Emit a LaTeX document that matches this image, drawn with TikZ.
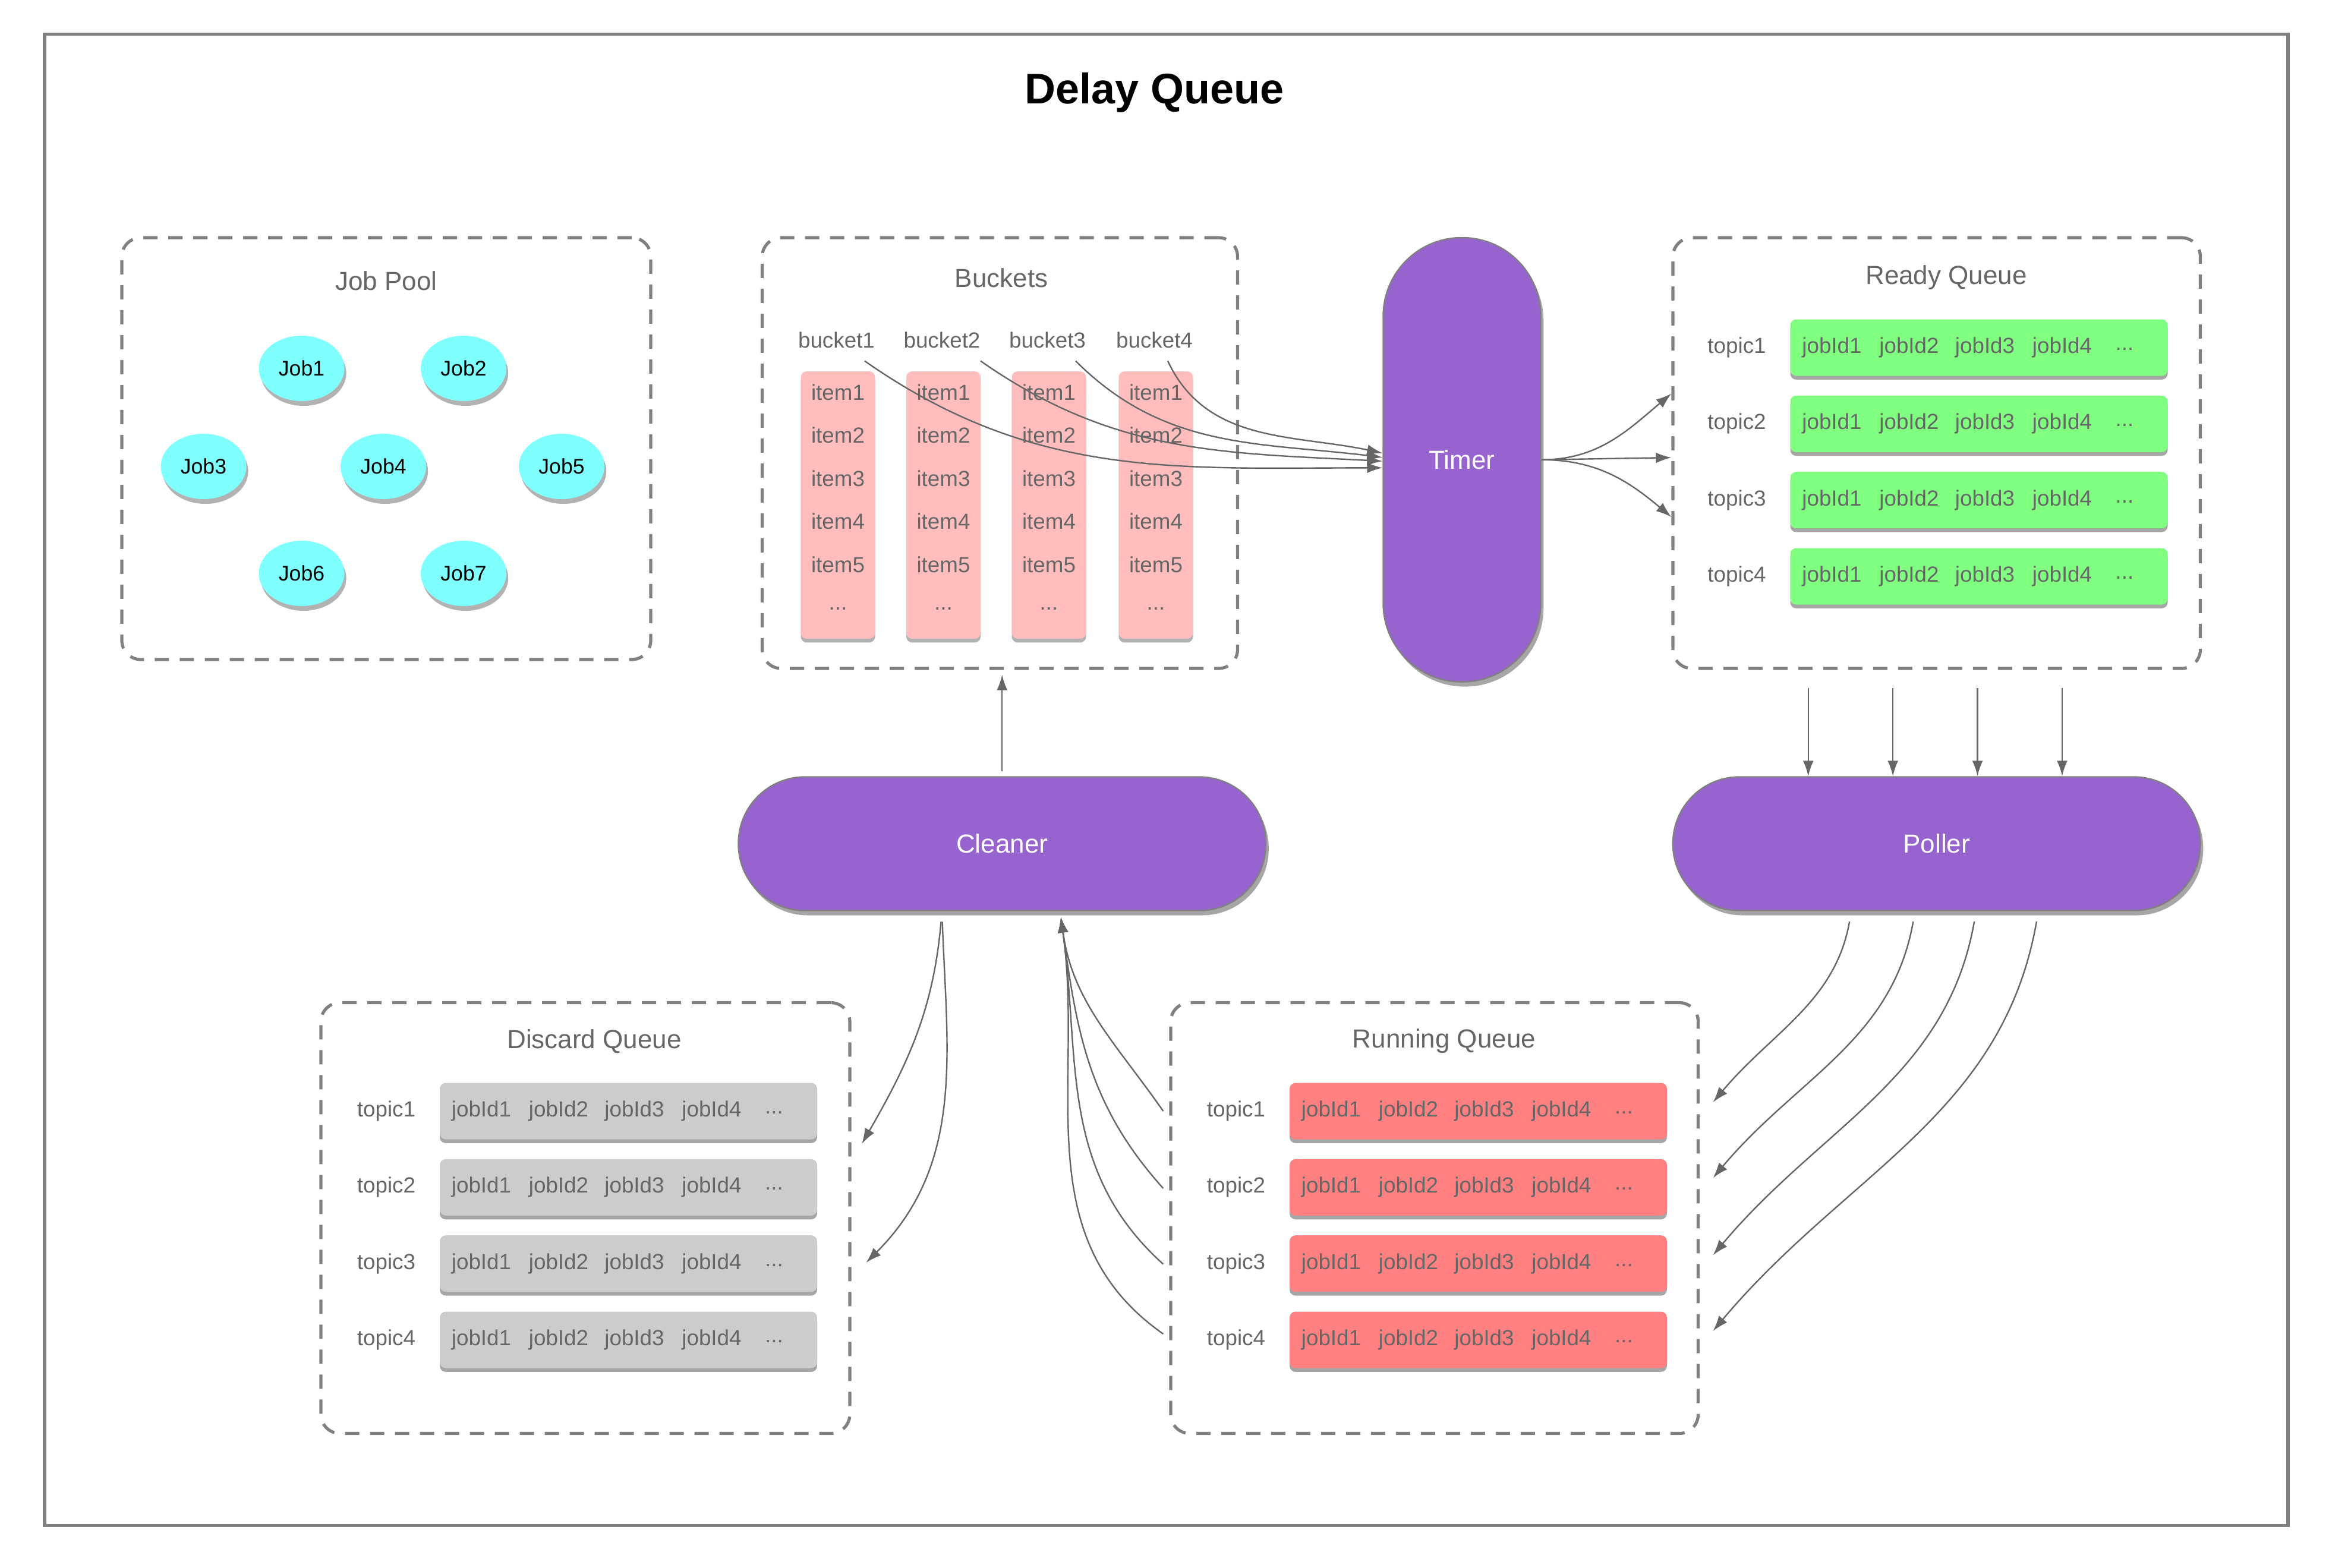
\documentclass[tikz,border=0pt]{standalone}
\usepackage{fontspec}
\setmainfont{Liberation Sans}
\usetikzlibrary{shapes.geometric,shadows,arrows.meta,calc}
\definecolor{purp}{HTML}{9663CF}
\definecolor{grnc}{HTML}{80FF80}
\definecolor{pinkc}{HTML}{FFBDBD}
\definecolor{redc}{HTML}{FF8080}
\definecolor{grayc}{HTML}{CCCCCC}
\definecolor{cyanc}{HTML}{80FFFF}
\definecolor{dashc}{HTML}{808080}
\definecolor{txtc}{HTML}{666666}
\definecolor{arrc}{HTML}{666666}
\newcommand\queuerows[3]{% #1 prefix, #2 bar left x, #3 fill colour
  \foreach \t in {1,2,3,4} {
    \pgfmathsetmacro\yy{\qtop+(\t-1)*51.33}
    \node[bar, fill=#3] (#1\t) at ({#2+127},\yy) {};
    \node[lbl] (#1t\t) at ({#2-36},\yy) {topic\t};
    \foreach \j/\dx in {1/28,2/80,3/131,4/183}
      \node[lbl] (#1\t-j\j) at ({#2+\dx},\yy) {jobId\j};
    \node[lbl] (#1\t-d) at ({#2+225},\yy+1) {...};
  }
}
\begin{document}
\begin{tikzpicture}[x=0.625pt,y=-0.625pt,
  grp/.style={draw=dashc, line width=1.3pt, dash pattern=on 6pt off 4.5pt, rounded corners=8pt, inner sep=0pt},
  grptitle/.style={text=txtc, font=\fontsize{11}{13}\selectfont, inner sep=0pt},
  lbl/.style={text=txtc, font=\fontsize{9.2}{11}\selectfont, inner sep=0pt},
  bar/.style={rounded corners=2.5pt, minimum width=158.75pt, minimum height=23.75pt, inner sep=0pt,
    drop shadow={shadow xshift=0pt, shadow yshift=-1.6pt, fill=black, opacity=0.35}},
  colbox/.style={fill=pinkc, rounded corners=2.5pt, minimum width=31.25pt, minimum height=112.5pt, inner sep=0pt,
    drop shadow={shadow xshift=0pt, shadow yshift=-1.6pt, fill=black, opacity=0.3}},
  job/.style={ellipse, fill=cyanc, minimum width=36pt, minimum height=27.5pt, inner sep=0pt,
    font=\fontsize{8.9}{11}\selectfont,
    drop shadow={shadow xshift=0.8pt, shadow yshift=-2pt, fill=black, opacity=0.3}},
  pill/.style={fill=purp, draw=dashc, line width=0.6pt, text=white, font=\fontsize{11}{13}\selectfont, inner sep=0pt,
    drop shadow={shadow xshift=1.2pt, shadow yshift=-2pt, fill=black, opacity=0.35}},
  conn/.style={draw=arrc, line width=0.6pt, -{Latex[length=6.5pt,width=4.5pt]}}
]
\useasboundingbox (0,0) rectangle (1567.6,1055.2);
\fill[white] (0,0) rectangle (1567.6,1055.2);
\node[draw=dashc, line width=1.3pt, minimum width=943.75pt, minimum height=627.5pt, inner sep=0pt] (frame) at (785,525) {};
\node[font=\fontsize{18}{21}\selectfont\bfseries] (title) at (777,62.5) {Delay Queue};

% Job Pool
\node[grp, minimum width=222.5pt, minimum height=177.5pt] (JP) at (260,302) {};
\node[grptitle] (JPt) at (260,189) {Job Pool};
\node[job] (job1) at (203,248) {Job1};
\node[job] (job2) at (312,248) {Job2};
\node[job] (job3) at (137,314) {Job3};
\node[job] (job4) at (258,314) {Job4};
\node[job] (job5) at (378,314) {Job5};
\node[job] (job6) at (203,386) {Job6};
\node[job] (job7) at (312,386) {Job7};

% Buckets
\node[grp, minimum width=200pt, minimum height=181.25pt] (Bk) at (673,305) {};
\node[grptitle] (Bkt) at (674,187) {Buckets};
\foreach \c/\x in {1/564,2/635,3/706,4/778} {
  \node[colbox] (col\c) at (\x,340) {};
  \node[lbl] (bl\c) at ({\x-1},229) {bucket\c};
  \foreach \r/\y in {1/264,2/293,3/322,4/351,5/380}
    \node[lbl] (it\c-\r) at (\x,\y) {item\r};
  \node[lbl] (itd\c) at (\x,410) {...};
}

% Timer
\node[pill, rounded corners=33pt, minimum width=66.25pt, minimum height=186.9pt] (Timer) at (984,309.5) {Timer};

% Ready Queue
\node[grp, minimum width=221.9pt, minimum height=181.25pt] (RQ) at (1303.5,305) {};
\node[grptitle] (RQt) at (1310,187) {Ready Queue};
\def\qtop{234}
\queuerows{rq}{1205}{grnc}

% Cleaner and Poller
\node[pill, rounded corners=28pt, minimum width=221.9pt, minimum height=56.25pt] (Cleaner) at (674.5,568) {Cleaner};
\node[pill, rounded corners=28pt, minimum width=221.9pt, minimum height=56.25pt] (Poller) at (1303.5,568) {Poller};

% Discard Queue
\node[grp, minimum width=222.5pt, minimum height=181.25pt] (DQ) at (394,820) {};
\node[grptitle] (DQt) at (400,701) {Discard Queue};
\def\qtop{748}
\queuerows{dq}{296}{grayc}

% Running Queue
\node[grp, minimum width=221.9pt, minimum height=181.25pt] (RnQ) at (965.5,820) {};
\node[grptitle] (RnQt) at (972,701) {Running Queue};
\queuerows{rn}{868}{redc}

% bucket -> timer
\coordinate (bs1) at (582,243);
\coordinate (bs2) at (660,243);
\coordinate (bs3) at (724,243);
\coordinate (bs4) at (786,243);
\draw[conn] (bs1) to[out=-35,in=180] ([yshift=-3.4pt]Timer.west);
\draw[conn] (bs2) to[out=-35,in=177] ([yshift=-0.6pt]Timer.west);
\draw[conn] (bs3) to[out=-45,in=173] ([yshift=1pt]Timer.west);
\draw[conn] (bs4) to[out=-65,in=168] ([yshift=2.8pt]Timer.west);

% timer -> ready queue
\draw[conn] (Timer.east) to[out=0,in=-140] ([yshift=25pt]RQ.west);
\draw[conn] (Timer.east) -- ([yshift=-1.9pt]RQ.west);
\draw[conn] (Timer.east) to[out=0,in=140] ([yshift=-26.9pt]RQ.west);

% ready queue -> poller
\foreach \dx in {-54,-18.4,17.2,52.8}
  \draw[conn, shorten <=7.5pt] ([xshift=\dx pt]RQ.south) -- ([xshift=\dx pt]Poller.north);

% cleaner -> buckets
\draw[conn, shorten <=2pt, shorten >=2pt] (Cleaner.north) -- (Cleaner.north |- Bk.south);

% cleaner -> discard queue
\draw[conn, shorten <=4.4pt] ([xshift=-25.3pt]Cleaner.south) to[out=-95,in=60] ([xshift=4.4pt,yshift=31.25pt]DQ.east);
\draw[conn, shorten <=4.4pt] ([xshift=-25.3pt]Cleaner.south) to[out=-88,in=45] ([xshift=6.2pt,yshift=-18.75pt]DQ.east);

% running queue -> cleaner
\foreach \dy/\o in {45/125,12.5/132,-19.4/138,-48.75/145}
  \draw[conn] ([xshift=-2.5pt,yshift=\dy pt]RnQ.west) to[out=\o,in=-82] ([xshift=24.7pt,yshift=-2.5pt]Cleaner.south);

% poller -> running queue
\foreach \dx/\dy in {-35.9/48.75,-9.1/16.9,16.6/-15.6,42.8/-47.5}
  \draw[conn, shorten <=4.4pt] ([xshift=\dx pt]Poller.south) to[out=-100,in=50] ([xshift=5.6pt,yshift=\dy pt]RnQ.east);
\end{tikzpicture}
\end{document}
